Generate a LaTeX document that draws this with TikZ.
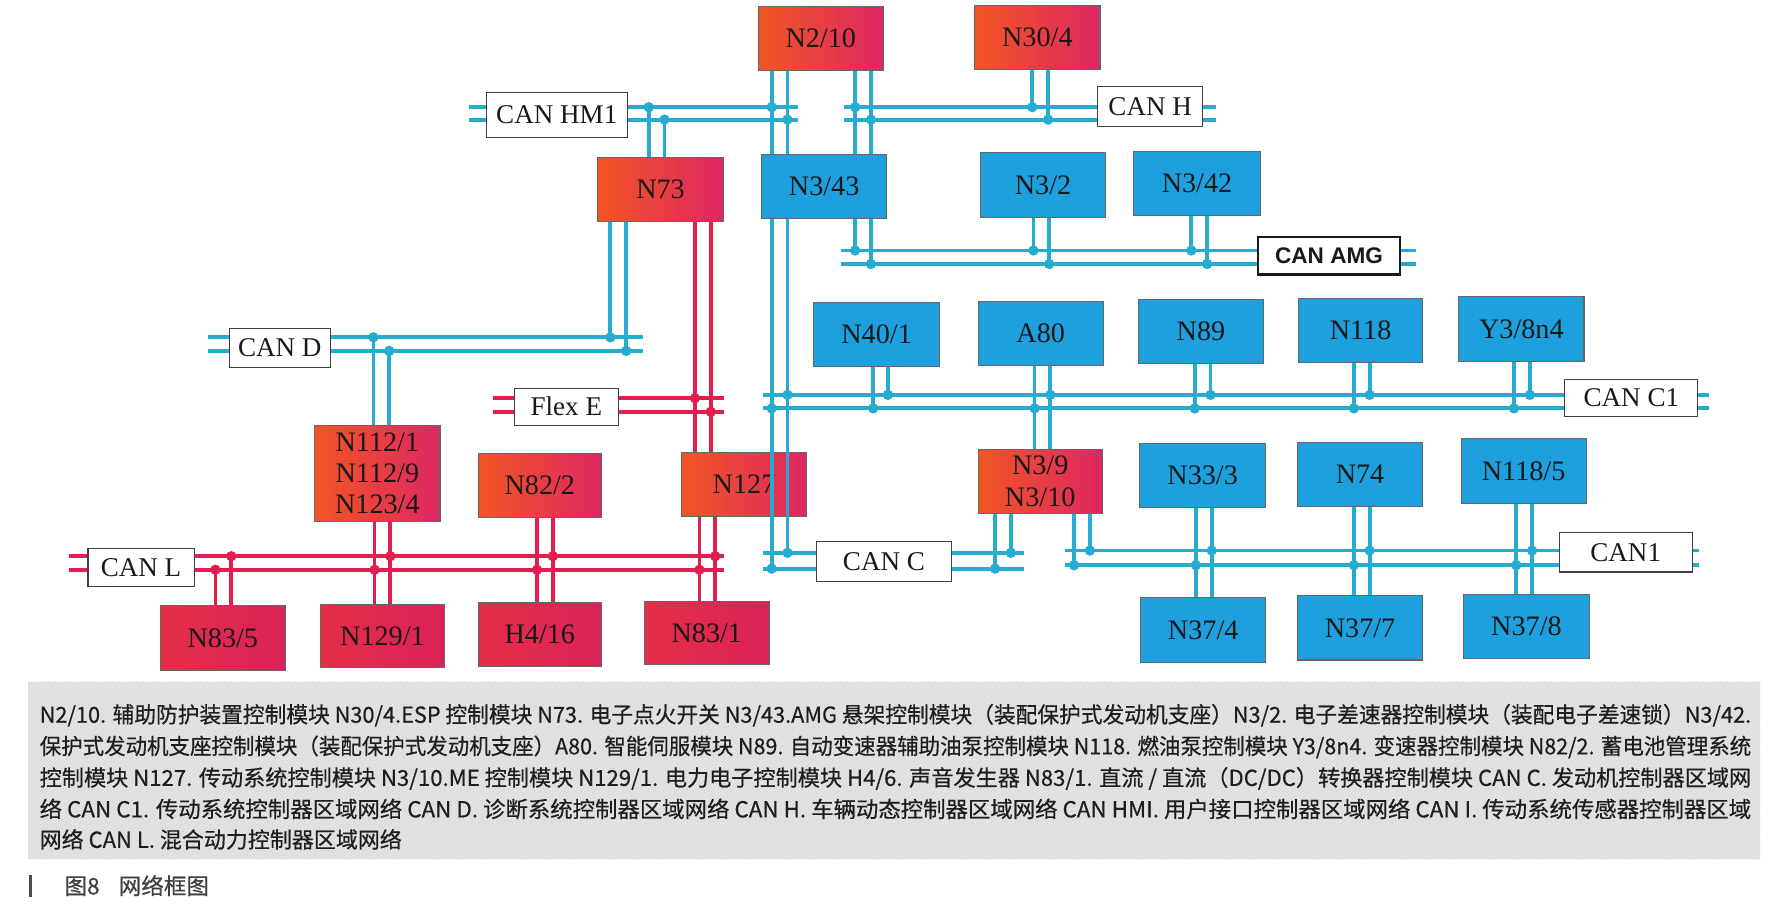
\documentclass[tikz,border=0pt]{standalone}
\usepackage{fontspec}
\usepackage{graphicx}
\setmainfont{Liberation Serif}
\newfontfamily\cjkfont[FakeBold=0.5]{Noto Sans CJK SC}
\newfontfamily\amgfont{Liberation Sans}
\usetikzlibrary{patterns}
\definecolor{boxblue}{RGB}{30,160,222}
\definecolor{lineblue}{RGB}{38,172,208}
\definecolor{linered}{RGB}{226,30,80}
\definecolor{rleft}{RGB}{242,86,36}
\definecolor{rright}{RGB}{222,38,98}
\definecolor{cleft}{RGB}{228,46,70}
\definecolor{cright}{RGB}{218,34,88}
\definecolor{legtxt}{RGB}{30,30,30}
\tikzset{
  base/.style={inner sep=0pt, align=center, text=black!90},
  modfont/.style={font=\fontsize{25}{27.5}\selectfont},
  bbox/.style={base, modfont, draw=black!60, line width=0.9pt, fill=boxblue, minimum width=111pt, minimum height=57pt},
  rbox/.style={base, modfont, draw=black!60, line width=0.9pt, left color=rleft, right color=rright, minimum width=111pt, minimum height=57pt},
  cbox/.style={base, modfont, draw=black!60, line width=0.9pt, left color=cleft, right color=cright, minimum width=111pt, minimum height=57pt},
  lbox/.style={base, draw=black!75, line width=0.9pt, fill=white, font=\fontsize{24}{26}\selectfont},
  bl/.style={draw=lineblue, line width=3.4pt},
  rl/.style={draw=linered, line width=3.4pt},
  legtext/.style={inner sep=0pt, anchor=west, text=legtxt, font=\cjkfont\fontsize{19.5}{22}\selectfont},
}
\begin{document}
\begin{tikzpicture}[x=1pt,y=-1pt]
\useasboundingbox (0,0) rectangle (1568,806);
% ---------- modules ----------
\node[rbox] (n210) at (727.5,34) {N2/10};
\node[rbox] (n304) at (919.5,33) {N30/4};
\node[rbox] (n73)  at (585.5,168) {N73};
\node[rbox, minimum height=85pt] (n112) at (334.5,419.5) {N112/1\\N112/9\\N123/4};
\node[rbox, minimum width=109pt] (n822) at (478.5,430.5) {N82/2};
\node[rbox] (n127) at (659.5,429.5) {N127};
\node[rbox, minimum width=110pt, font=\fontsize{25}{28}\selectfont] (n39) at (922,426.5) {N3/9\\N3/10};
\node[cbox] (n835) at (197.5,565.5) {N83/5};
\node[cbox, minimum width=110pt, minimum height=56pt] (n1291) at (339,564) {N129/1};
\node[cbox, minimum width=109pt] (h416) at (478.5,562.5) {H4/16};
\node[cbox, minimum height=56pt] (n831) at (626.5,561) {N83/1};
\node[bbox] (n343) at (730.5,165.5) {N3/43};
\node[bbox] (n32)  at (924.5,164) {N3/2};
\node[bbox, minimum width=112pt] (n342) at (1061,162.5) {N3/42};
\node[bbox, minimum width=112pt] (n401) at (777,296.5) {N40/1};
\node[bbox] (a80)  at (922.5,295.5) {A80};
\node[bbox] (n89)  at (1064.5,294) {N89};
\node[bbox, minimum width=110pt] (n118) at (1206,293) {N118};
\node[bbox] (y38)  at (1348.5,291.5) {Y3/8n4};
\node[bbox, minimum width=112pt] (n333) at (1066,421.5) {N33/3};
\node[bbox] (n74)  at (1205.5,420.5) {N74};
\node[bbox] (n1185) at (1350.5,417.5) {N118/5};
\node[bbox] (n374) at (1066.5,558.5) {N37/4};
\node[bbox] (n377) at (1205.5,556.5) {N37/7};
\node[bbox, minimum width=112pt] (n378) at (1353,555.5) {N37/8};
% ---------- bus labels ----------
\node[lbox, minimum width=125pt, minimum height=40pt] (hm1) at (493.5,102) {CAN HM1};
\node[lbox, minimum width=93pt, minimum height=35pt] (canh) at (1019.5,94.5) {CAN H};
\node[lbox, minimum width=126pt, minimum height=33pt, line width=2.4pt, draw=black!90, font=\amgfont\bfseries\fontsize{20}{22}\selectfont] (amg) at (1178,226.5) {CAN AMG};
\node[lbox, minimum width=90pt, minimum height=35pt] (cand) at (248,308.5) {CAN D};
\node[lbox, minimum width=92pt, minimum height=33pt] (flexe) at (502,360.5) {Flex E};
\node[lbox, minimum width=118pt, minimum height=33pt] (canc1) at (1446,352.5) {CAN C1};
\node[lbox, minimum width=94pt, minimum height=34pt] (canl) at (125,503) {CAN L};
\node[lbox, minimum width=119pt, minimum height=35pt] (canc) at (783.5,497.5) {CAN C};
\node[lbox, minimum width=118pt, minimum height=35pt] (can1) at (1441,489.5) {CAN1};
% ---------- bus ends ----------
\coordinate (hmL) at (416,0);   \coordinate (hmR) at (707,0);
\coordinate (hL) at (748,0);    \coordinate (hR) at (1078,0);
\coordinate (amgL) at (745,0);  \coordinate (amgR) at (1255,0);
\coordinate (dL) at (184,0);    \coordinate (dR) at (570,0);
\coordinate (feL) at (437,0);   \coordinate (feR) at (642,0);
\coordinate (c1L) at (676,0);   \coordinate (c1R) at (1515,0);
\coordinate (lL) at (61,0);     \coordinate (lR) at (642,0);
\coordinate (cL) at (676,0);    \coordinate (cR) at (908,0);
\coordinate (oneL) at (944,0);  \coordinate (oneR) at (1506,0);
% CAN HM1 and CAN H
\foreach \y in {95,106}{
  \draw[bl] (hmL |- 0,\y) -- (hm1.west |- 0,\y);
  \draw[bl] (hm1.east |- 0,\y) -- (hmR |- 0,\y);
  \draw[bl] (hL |- 0,\y) -- (canh.west |- 0,\y);
  \draw[bl] (canh.east |- 0,\y) -- (hR |- 0,\y);
}
% CAN AMG
\foreach \y in {222,234}{
  \draw[bl] (amgL |- 0,\y) -- (amg.west |- 0,\y);
  \draw[bl] (amg.east |- 0,\y) -- (amgR |- 0,\y);
}
% CAN D
\foreach \y in {299,311}{
  \draw[bl] (dL |- 0,\y) -- (cand.west |- 0,\y);
  \draw[bl] (cand.east |- 0,\y) -- (dR |- 0,\y);
}
% Flex E
\foreach \y in {353,365}{
  \draw[rl] (feL |- 0,\y) -- (flexe.west |- 0,\y);
  \draw[rl] (flexe.east |- 0,\y) -- (feR |- 0,\y);
}
% CAN C1
\foreach \y in {350,362}{
  \draw[bl] (c1L |- 0,\y) -- (canc1.west |- 0,\y);
  \draw[bl] (canc1.east |- 0,\y) -- (c1R |- 0,\y);
}
% CAN L
\foreach \y in {493,505}{
  \draw[rl] (lL |- 0,\y) -- (canl.west |- 0,\y);
  \draw[rl] (canl.east |- 0,\y) -- (lR |- 0,\y);
}
% CAN C
\foreach \y in {490,504}{
  \draw[bl] (cL |- 0,\y) -- (canc.west |- 0,\y);
  \draw[bl] (canc.east |- 0,\y) -- (cR |- 0,\y);
}
% CAN1
\foreach \y in {488,501}{
  \draw[bl] (oneL |- 0,\y) -- (can1.west |- 0,\y);
  \draw[bl] (can1.east |- 0,\y) -- (oneR |- 0,\y);
}
% ---------- drops (blue) ----------
\draw[bl] (n73.north -| 575,0) -- (575,95);
\draw[bl] (n73.north -| 589,0) -- (589,106);
\foreach \x in {684,698,758,772}
  \draw[bl] (n210.south -| \x,0) -- (n343.north -| \x,0);
\draw[bl] (n304.south -| 915,0) -- (915,95);
\draw[bl] (n304.south -| 929,0) -- (929,106);
\draw[bl] (n343.south -| 758,0) -- (758,222);
\draw[bl] (n343.south -| 772,0) -- (772,234);
\draw[bl] (n32.south -| 916,0) -- (916,222);
\draw[bl] (n32.south -| 930,0) -- (930,234);
\draw[bl] (n342.south -| 1056,0) -- (1056,222);
\draw[bl] (n342.south -| 1070,0) -- (1070,234);
\draw[bl] (n73.south -| 541,0) -- (541,299);
\draw[bl] (n73.south -| 555,0) -- (555,311);
\draw[bl] (331,299) -- (n112.north -| 331,0);
\draw[bl] (345,311) -- (n112.north -| 345,0);
\draw[bl] (n343.south -| 684,0) -- (684,504);
\draw[bl] (n343.south -| 698,0) -- (698,490);
\draw[bl] (n401.south -| 774,0) -- (774,362);
\draw[bl] (n401.south -| 787,0) -- (787,350);
\draw[bl] (a80.south -| 917,0) -- (n39.north -| 917,0);
\draw[bl] (a80.south -| 931,0) -- (n39.north -| 931,0);
\draw[bl] (n89.south -| 1059,0) -- (1059,362);
\draw[bl] (n89.south -| 1073,0) -- (1073,350);
\draw[bl] (n118.south -| 1200,0) -- (1200,362);
\draw[bl] (n118.south -| 1214,0) -- (1214,350);
\draw[bl] (y38.south -| 1342,0) -- (1342,362);
\draw[bl] (y38.south -| 1356,0) -- (1356,350);
\draw[bl] (n39.south -| 882,0) -- (882,504);
\draw[bl] (n39.south -| 896,0) -- (896,490);
\draw[bl] (n39.south -| 952,0) -- (952,501);
\draw[bl] (n39.south -| 966,0) -- (966,488);
\foreach \x in {1060,1074} \draw[bl] (n333.south -| \x,0) -- (n374.north -| \x,0);
\foreach \x in {1200,1214} \draw[bl] (n74.south -| \x,0) -- (n377.north -| \x,0);
\foreach \x in {1344,1358} \draw[bl] (n1185.south -| \x,0) -- (n378.north -| \x,0);
% ---------- drops (red) ----------
\foreach \x in {616,630} \draw[rl] (n73.south -| \x,0) -- (n127.north -| \x,0);
\draw[rl] (n835.north -| 191,0) -- (191,505);
\draw[rl] (n835.north -| 205,0) -- (205,493);
\foreach \x in {332,346} \draw[rl] (n112.south -| \x,0) -- (n1291.north -| \x,0);
\foreach \x in {476,490} \draw[rl] (n822.south -| \x,0) -- (h416.north -| \x,0);
\foreach \x in {620,634} \draw[rl] (n127.south -| \x,0) -- (n831.north -| \x,0);
% ---------- junction dots ----------
\foreach \x/\y in {575/95,589/106,684/95,698/106,758/95,772/106,915/95,929/106,
  758/222,772/234,916/222,930/234,1056/222,1070/234,
  541/299,555/311,331/299,345/311,
  698/350,684/362,787/350,774/362,931/350,917/362,1073/350,1059/362,1214/350,1200/362,1356/350,1342/362,
  698/490,684/504,896/490,882/504,
  966/488,952/501,1074/488,1060/501,1214/488,1200/501,1358/488,1344/501}
  \fill[lineblue] (\x,\y) circle (4.6pt);
\foreach \x/\y in {616/353,630/365,205/493,191/505,346/493,332/505,490/493,476/505,634/493,620/505}
  \fill[linered] (\x,\y) circle (4.6pt);
% ---------- legend ----------
\node[inner sep=0pt, anchor=north west, minimum width=1535pt, minimum height=157pt, fill=black!10] (legbg) at (25,604) {};
\fill[pattern=north east lines, pattern color=black!17] (legbg.north west) rectangle (legbg.south east);
\node[legtext] (l1) at (35,634) {\resizebox{1517pt}{\height}{N2/10. 辅助防护装置控制模块 N30/4.ESP 控制模块 N73. 电子点火开关 N3/43.AMG 悬架控制模块（装配保护式发动机支座）N3/2. 电子差速器控制模块（装配电子差速锁）N3/42.}};
\node[legtext] (l2) at (35,662) {\resizebox{1517pt}{\height}{保护式发动机支座控制模块（装配保护式发动机支座）A80. 智能伺服模块 N89. 自动变速器辅助油泵控制模块 N118. 燃油泵控制模块 Y3/8n4. 变速器控制模块 N82/2. 蓄电池管理系统}};
\node[legtext] (l3) at (35,690) {\resizebox{1517pt}{\height}{控制模块 N127. 传动系统控制模块 N3/10.ME 控制模块 N129/1. 电力电子控制模块 H4/6. 声音发生器 N83/1. 直流 / 直流（DC/DC）转换器控制模块 CAN C. 发动机控制器区域网}};
\node[legtext] (l4) at (35,717) {\resizebox{1517pt}{\height}{络 CAN C1. 传动系统控制器区域网络 CAN D. 诊断系统控制器区域网络 CAN H. 车辆动态控制器区域网络 CAN HMI. 用户接口控制器区域网络 CAN I. 传动系统传感器控制器区域}};
\node[legtext] (l5) at (35,744) {网络 CAN L. 混合动力控制器区域网络};
% ---------- caption ----------
\draw[line width=3pt, black!70] (27,776) -- (27,795);
\node[inner sep=0pt, anchor=west, text=black!75, font=\cjkfont\fontsize{20}{22}\selectfont] (cap) at (57,785) {图8\hspace{17pt}网络框图};
\end{tikzpicture}
\end{document}
